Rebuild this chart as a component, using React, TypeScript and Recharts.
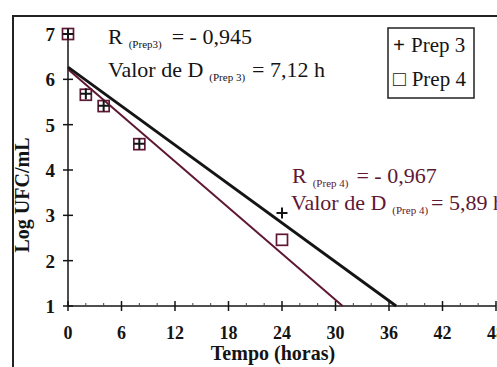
import { ScatterChart, Scatter, XAxis, YAxis } from 'recharts';

// Log UFC/mL measured at each sampling time (hours)
const hours = [0, 2, 4, 8, 24];
const prep3Values = [7, 5.68, 5.42, 4.58, 3.05];
const prep4Values = [7, 5.66, 5.41, 4.57, 2.46];

// regression lines, endpoints in (hours, log UFC/mL)
const prep3Fit = [
  { t: 0, v: 6.27 },
  { t: 36.8, v: 1 },
];
const prep4Fit = [
  { t: 0, v: 6.22 },
  { t: 30.8, v: 1 },
];

const xTicks = [0, 2, 4, 6, 8, 10, 12, 14, 16, 18, 20, 22, 24, 26, 28, 30, 32, 34, 36, 38, 40, 42, 44, 46, 48];
const yTicks = [1, 2, 3, 4, 5, 6, 7];

const legendItems = [
  { symbol: '+', label: 'Prep 3' },
  { symbol: '□', label: 'Prep 4' },
];

const prep3Points = hours.map((t, i) => ({ t, v: prep3Values[i] }));
const prep4Points = hours.map((t, i) => ({ t, v: prep4Values[i] }));

const FONT = '"Liberation Serif", "DejaVu Serif", serif';
const INK = '#141414';
const MAROON = '#5e1834';
const serif = { fontFamily: FONT };

const PlusMark = (props: any) => {
  const { cx, cy } = props;
  return (
    <path
      d={`M${cx - 5.5},${cy} H${cx + 5.5} M${cx},${cy - 5.5} V${cy + 5.5}`}
      stroke={INK}
      strokeWidth={2}
      fill="none"
    />
  );
};

const SquareMark = (props: any) => {
  const { cx, cy } = props;
  return <rect x={cx - 5.5} y={cy - 5.5} width={11} height={11} fill="none" stroke={MAROON} strokeWidth={1.7} />;
};

const NoMark = () => <g />;

const XTick = (props: any) => {
  const { x, y, payload } = props;
  const major = payload.value % 6 === 0;
  return (
    <g>
      {major ? (
        <line x1={x} x2={x} y1={y - 5} y2={y + 5} stroke={INK} strokeWidth={1.5} />
      ) : (
        <line x1={x} x2={x} y1={y - 3} y2={y} stroke="#444" strokeWidth={1} />
      )}
      {major && (
        <text x={x} y={y + 33} textAnchor="middle" style={serif} fontWeight="bold" fontSize={18} fill={INK}>
          {payload.value}
        </text>
      )}
    </g>
  );
};

const YTick = (props: any) => {
  const { x, y, payload } = props;
  return (
    <g>
      <line x1={x - 5} x2={x + 5} y1={y} y2={y} stroke={INK} strokeWidth={1.5} />
      <text x={x - 13} y={y + 7} textAnchor="end" style={serif} fontWeight="bold" fontSize={19} fill={INK}>
        {payload.value}
      </text>
    </g>
  );
};

// text with a small subscript after the first word group
const Annotation = ({ x, y, head, subText, tail, color, gap = 5 }: any) => (
  <text x={x} y={y} style={serif} fontSize={22} fill={color}>
    {head}
    <tspan fontSize={11} dx={6} dy={4}>
      {subText}
    </tspan>
    <tspan dx={gap} dy={-4}>
      {tail}
    </tspan>
  </text>
);

export default function App() {
  return (
    <div
      style={{
        position: 'fixed',
        left: 0,
        top: 0,
        width: 497,
        height: 367,
        overflow: 'hidden',
        background: '#fff',
      }}
    >
      <div style={{ position: 'absolute', left: 0, top: 0 }}>
        <ScatterChart width={510} height={367} margin={{ top: 34, right: 14, bottom: 31, left: 0 }}>
          <XAxis
            type="number"
            dataKey="t"
            domain={[0, 48]}
            ticks={xTicks}
            interval={0}
            tickSize={0}
            tickMargin={0}
            tick={<XTick />}
            axisLine={{ stroke: INK, strokeWidth: 1.5 }}
            tickLine={false}
            height={30}
          />
          <YAxis
            type="number"
            dataKey="v"
            domain={[1, 7]}
            ticks={yTicks}
            interval={0}
            tickSize={0}
            tickMargin={0}
            tick={<YTick />}
            axisLine={{ stroke: INK, strokeWidth: 1.5 }}
            tickLine={false}
            width={68}
          />
          <Scatter
            name="Ajuste Prep 4"
            data={prep4Fit}
            line={{ stroke: MAROON, strokeWidth: 2 }}
            shape={<NoMark />}
            legendType="none"
            isAnimationActive={false}
          />
          <Scatter
            name="Ajuste Prep 3"
            data={prep3Fit}
            line={{ stroke: INK, strokeWidth: 2.8 }}
            shape={<NoMark />}
            legendType="none"
            isAnimationActive={false}
          />
          <Scatter name="Prep 4" data={prep4Points} shape={<SquareMark />} isAnimationActive={false} />
          <Scatter name="Prep 3" data={prep3Points} shape={<PlusMark />} isAnimationActive={false} />
        </ScatterChart>
      </div>

      {/* frame, annotations, legend and axis titles */}
      <svg width={497} height={367} style={{ position: 'absolute', left: 0, top: 0, pointerEvents: 'none' }}>
        <path d="M13,367 V16 H497" fill="none" stroke="#222" strokeWidth={2} />

        <Annotation x={108} y={44} head="R" subText="(Prep3)" tail="=  - 0,945" color={INK} gap={10} />
        <Annotation x={108} y={77} head="Valor de D" subText="(Prep 3)" tail="= 7,12 h" color={INK} gap={7} />
        <Annotation x={292} y={183} head="R" subText="(Prep 4)" tail="=  - 0,967" color={MAROON} gap={8} />
        <Annotation x={291} y={210} head="Valor de D" subText="(Prep 4)" tail="= 5,89 h" color={MAROON} gap={3} />

        <rect x={388} y={28} width={86} height={70} fill="#fff" stroke="#222" strokeWidth={1.5} />
        {legendItems.map((item, i) => (
          <text key={item.label} x={393} y={52 + i * 34} style={serif} fontSize={21} fill={INK}>
            <tspan fontWeight="bold">{item.symbol}</tspan>
            <tspan dx={6}>{item.label}</tspan>
          </text>
        ))}

        <text x={273} y={360} textAnchor="middle" style={serif} fontWeight="bold" fontSize={20} fill={INK}>
          Tempo (horas)
        </text>
        <text
          x={29}
          y={195}
          textAnchor="middle"
          transform="rotate(-90 29 195)"
          style={serif}
          fontWeight="bold"
          fontSize={20}
          fill={INK}
        >
          Log UFC/mL
        </text>
      </svg>
    </div>
  );
}
